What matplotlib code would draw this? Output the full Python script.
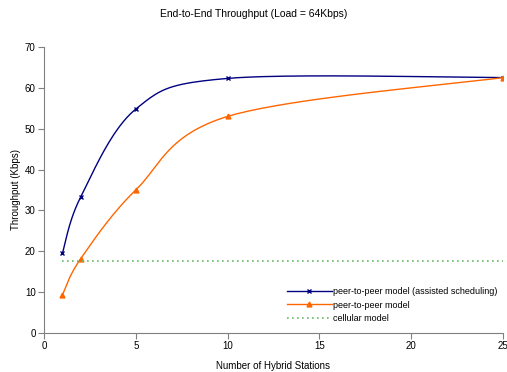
import numpy as np
import matplotlib
matplotlib.use("Agg")
import matplotlib.pyplot as plt

plt.rcParams['font.family'] = ['Liberation Sans', 'DejaVu Sans']

stations = [1, 2, 5, 10, 25]
assisted = [19.5, 33.3, 54.8, 62.3, 62.5]
p2p = [9.3, 18.2, 35.0, 53.0, 62.5]
cellular = [17.5, 17.5, 17.5, 17.5, 17.5]

def smooth(xs, ys, n=40):
    # excel style smoothed line (catmull-rom bezier)
    xs = np.asarray(xs, float)
    ys = np.asarray(ys, float)
    P = np.column_stack([xs, ys])
    out = []
    for i in range(len(P) - 1):
        p0 = P[i - 1] if i > 0 else P[i]
        p1 = P[i]
        p2 = P[i + 1]
        p3 = P[i + 2] if i + 2 < len(P) else P[i + 1]
        c1 = p1 + (p2 - p0) / 6.0
        c2 = p2 - (p3 - p1) / 6.0
        t = np.linspace(0, 1, n)[:, None]
        seg = (1 - t)**3 * p1 + 3 * (1 - t)**2 * t * c1 + 3 * (1 - t) * t**2 * c2 + t**3 * p2
        out.append(seg if i == 0 else seg[1:])
    out = np.vstack(out)
    return out[:, 0], out[:, 1]

fig = plt.figure(figsize=(5.07, 3.72), dpi=100)
ax = fig.add_axes([0.0868, 0.1048, 0.9052, 0.769])

blue = '#000080'
orange = '#ff6600'
green = '#66bb66'

sx, sy = smooth(stations, assisted)
ax.plot(sx, sy, color=blue, lw=1)
ax.plot(stations, assisted, 'x', color=blue, ms=3.5, mew=1)
sx, sy = smooth(stations, p2p)
ax.plot(sx, sy, color=orange, lw=1)
ax.plot(stations, p2p, '^', color=orange, ms=3.5)
ax.plot(stations, cellular, color=green, lw=1.2, ls=(0, (1, 2)))

# legend proxies
ax.plot([], [], color=blue, lw=1, marker='x', ms=3.5, label='peer-to-peer model (assisted scheduling)')
ax.plot([], [], color=orange, lw=1, marker='^', ms=3.5, label='peer-to-peer model')
ax.plot([], [], color=green, lw=1.2, ls=(0, (1, 2)), label='cellular model')
ax.legend(loc='lower right', bbox_to_anchor=(1.005, 0.006), frameon=False, fontsize=6.5,
          handlelength=5, handletextpad=0.1, labelspacing=0.5, borderaxespad=0.5)

ax.set_xlim(0, 25)
ax.set_ylim(0, 70)
ax.set_xticks([0, 5, 10, 15, 20, 25])
ax.set_yticks(range(0, 71, 10))
for s in ['top', 'right']:
    ax.spines[s].set_visible(False)
for s in ['left', 'bottom']:
    ax.spines[s].set_color('#808080')
ax.tick_params(labelsize=7, length=4, color='#808080', pad=2)
ax.set_xlabel('Number of Hybrid Stations', fontsize=7, labelpad=7)
ax.set_ylabel('Throughput (Kbps)', fontsize=7, labelpad=3)
fig.text(0.5, 0.962, 'End-to-End Throughput (Load = 64Kbps)', ha='center', va='center', fontsize=7.5)

fig.savefig('out.png', dpi=100)
